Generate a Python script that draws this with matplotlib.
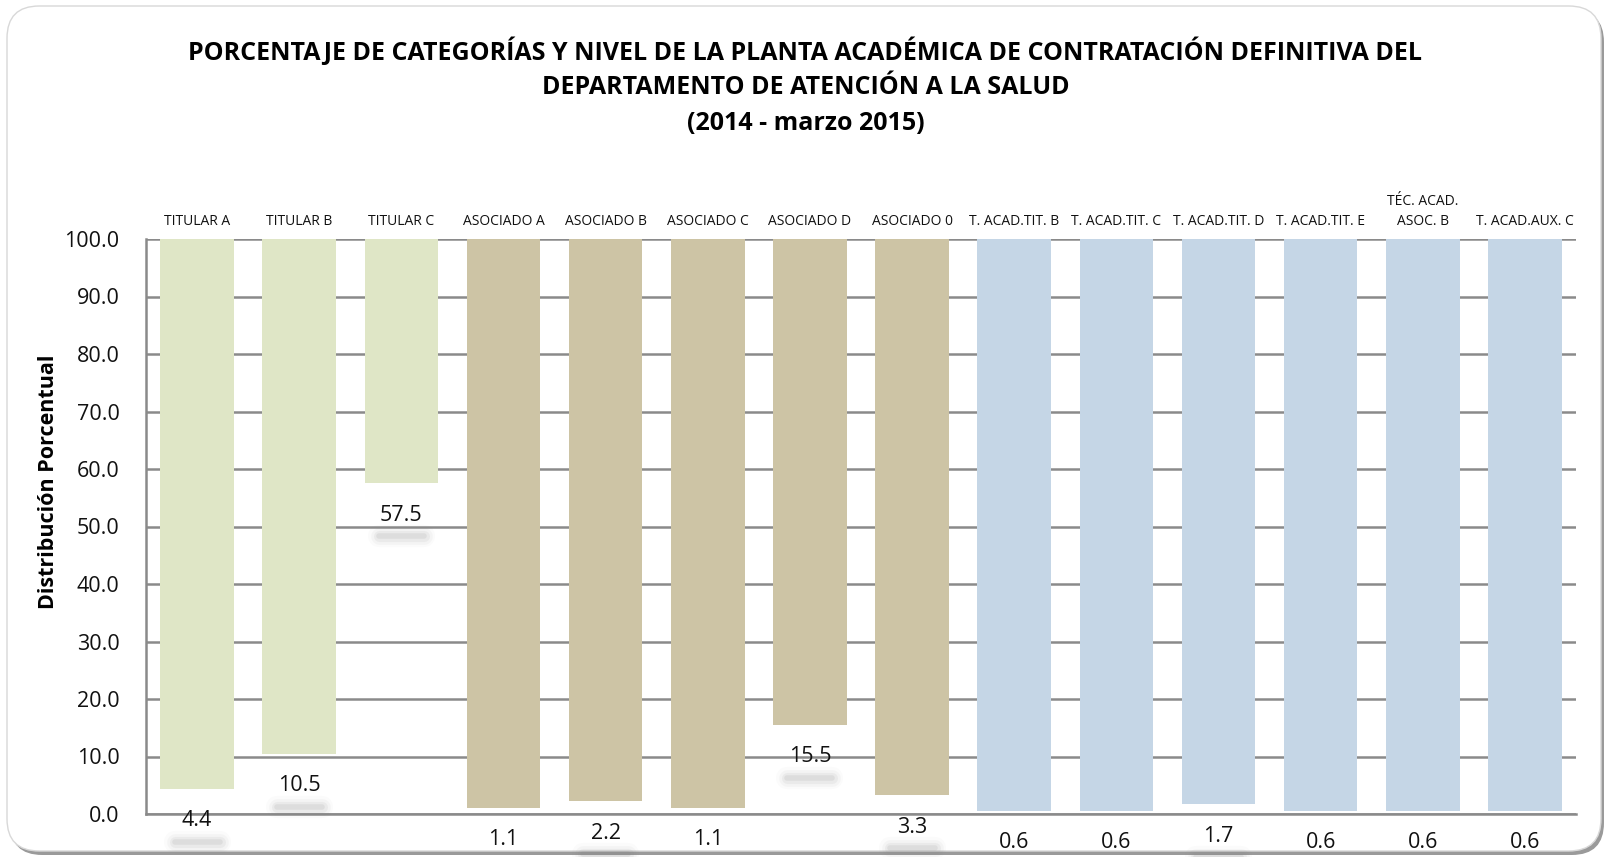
import matplotlib
matplotlib.use("Agg")
import matplotlib.pyplot as plt
import matplotlib.transforms as mtransforms
from matplotlib.patches import FancyBboxPatch

categories = ["TITULAR A", "TITULAR B", "TITULAR C", "ASOCIADO A", "ASOCIADO B",
              "ASOCIADO C", "ASOCIADO D", "ASOCIADO 0", "T. ACAD.TIT. B",
              "T. ACAD.TIT. C", "T. ACAD.TIT. D", "T. ACAD.TIT. E",
              "TÉC. ACAD.\nASOC. B", "T. ACAD.AUX. C"]
values = [4.4, 10.5, 57.5, 1.1, 2.2, 1.1, 15.5, 3.3, 0.6, 0.6, 1.7, 0.6, 0.6, 0.6]
groups = ["titular"] * 3 + ["asociado"] * 5 + ["tecnico"] * 6
group_colors = {"titular": "#DFE6C6", "asociado": "#CDC4A5", "tecnico": "#C5D6E6"}
yticks = [0, 10, 20, 30, 40, 50, 60, 70, 80, 90, 100]
title_lines = ["PORCENTAJE DE CATEGORÍAS Y NIVEL DE LA PLANTA ACADÉMICA DE CONTRATACIÓN DEFINITIVA DEL",
               "DEPARTAMENTO DE ATENCIÓN A LA SALUD",
               "(2014 - marzo 2015)"]
ylabel = "Distribución Porcentual"

FONT = ["Open Sans", "DejaVu Sans"]
plt.rcParams["font.family"] = FONT

W, H = 1611, 857
fig = plt.figure(figsize=(W / 100, H / 100), dpi=100)
fig.patch.set_facecolor("white")

# outer rounded frame with shadow
shadow = FancyBboxPatch((10 / W, 2 / H), 1594 / W, 845 / H,
                        boxstyle="round,pad=0,rounding_size=0.02",
                        transform=fig.transFigure, facecolor="#9a9a9a",
                        edgecolor="none", zorder=-2, mutation_aspect=W / H)
fig.patches.append(shadow)
frame = FancyBboxPatch((7 / W, 6 / H), 1594 / W, 845 / H,
                       boxstyle="round,pad=0,rounding_size=0.02",
                       transform=fig.transFigure, facecolor="white",
                       edgecolor="#d8d8d8", linewidth=1.0, zorder=-1,
                       mutation_aspect=W / H)
fig.patches.append(frame)

ax = fig.add_axes([146 / W, 1 - 814 / H, (1576 - 146) / W, (814 - 239) / H])
ax.set_facecolor("none")
ax.set_zorder(1)

x = list(range(len(categories)))
colors = [group_colors[g] for g in groups]
heights = [100 - v for v in values]
ax.bar(x, heights, bottom=values, width=0.72, color=colors, zorder=2)

ax.set_xlim(-0.5, len(categories) - 0.5)
ax.set_ylim(0, 100)
ax.set_yticks(yticks)
ax.set_yticklabels([f"{t:.1f}" for t in yticks], fontsize=15.5, color="#111111")
ax.tick_params(axis="y", length=0, pad=19)
ax.set_xticks(x)
ax.set_xticklabels(categories, fontsize=10, color="#111111", linespacing=1.45)
ax.xaxis.tick_top()
ax.tick_params(axis="x", length=0, pad=7)

ax.grid(axis="y", color="#8A8A8A", linewidth=1.8, zorder=1)
ax.set_axisbelow(True)
for s in ["right", "top"]:
    ax.spines[s].set_visible(False)
for s in ["left", "bottom"]:
    ax.spines[s].set_color("#8A8A8A")
    ax.spines[s].set_linewidth(1.8)

# data labels under bar ends with soft shadow
for xi, v in zip(x, values):
    off_text = mtransforms.offset_copy(ax.transData, fig=fig, x=0, y=-32, units="dots")
    off_sh = mtransforms.offset_copy(ax.transData, fig=fig, x=0, y=-53, units="dots")
    for lw, a in [(16, 0.03), (12, 0.05), (8, 0.08), (4, 0.12)]:
        ax.plot([xi - 0.22, xi + 0.22], [v, v], transform=off_sh, color="#808080",
                linewidth=lw, alpha=a, solid_capstyle="round", clip_on=False, zorder=3)
    ax.text(xi, v, f"{v:.1f}", transform=off_text, ha="center", va="center",
            fontsize=15.5, color="#111111", clip_on=False, zorder=4)

ax.set_ylabel(ylabel, fontsize=15.5, fontweight="bold")
ax.yaxis.set_label_coords(-0.061, 0.577)

ys = [1 - 52 / H, 1 - 88 / H, 1 - 124 / H]
for t, y in zip(title_lines, ys):
    fig.text(0.5, y, t, ha="center", va="center", fontsize=18, fontweight="bold",
             color="#000000")

fig.savefig("out.png", dpi=100)
